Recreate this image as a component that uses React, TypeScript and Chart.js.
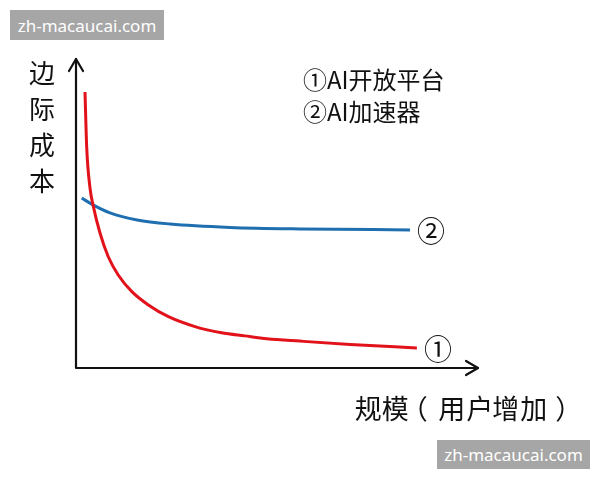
import React, { useEffect, useRef } from "react";
import { Chart, registerables } from "chart.js";

Chart.register(...registerables);

const redX = [2.24, 2.66, 3.48, 4.3, 5.97, 8.03, 10.5, 13.9, 18.0, 23.0, 29.6, 36.2, 42.0, 47.5, 55.7, 68.2, 84.8];
const redY = [89.3, 71.5, 58.3, 52.4, 43.7, 36.0, 30.1, 24.7, 20.4, 16.6, 13.4, 11.4, 10.4, 9.5, 8.7, 7.6, 6.5];
const blueX = [1.42, 4.23, 8.46, 15.2, 23.4, 38.3, 55.7, 83.1];
const blueY = [55.0, 52.8, 50.2, 47.9, 46.6, 45.5, 45.0, 44.7];
const seriesTags = ["①", "②"];
const legendLines = ["①AI开放平台", "②AI加速器"];
const yTitle = ["边", "际", "成", "本"];
const xTitle = "规模（用户增加）";
const watermark = "zh-macaucai.com";

const FONT = '"Noto Sans CJK SC", "Noto Sans", sans-serif';

const decorPlugin = {
  id: "decor",
  afterDraw(chart: any) {
    const ctx = chart.ctx as CanvasRenderingContext2D;
    const a = chart.chartArea;
    ctx.save();
    // axes
    ctx.strokeStyle = "#111";
    ctx.lineWidth = 2.2;
    ctx.lineCap = "round";
    ctx.lineJoin = "round";
    ctx.beginPath();
    ctx.moveTo(a.left, a.top);
    ctx.lineTo(a.left, a.bottom);
    ctx.lineTo(a.right, a.bottom);
    ctx.stroke();
    ctx.beginPath();
    ctx.moveTo(a.left - 7, a.top + 12);
    ctx.lineTo(a.left, a.top);
    ctx.lineTo(a.left + 7, a.top + 12);
    ctx.stroke();
    ctx.beginPath();
    ctx.moveTo(a.right - 12, a.bottom - 7);
    ctx.lineTo(a.right, a.bottom);
    ctx.lineTo(a.right - 12, a.bottom + 7);
    ctx.stroke();

    ctx.fillStyle = "#111";
    ctx.textBaseline = "middle";
    // series tags at line ends
    chart.data.datasets.forEach((ds: any, i: number) => {
      const meta = chart.getDatasetMeta(i);
      const last = meta.data[meta.data.length - 1];
      ctx.font = `28px ${FONT}`;
      ctx.textAlign = "left";
      ctx.fillText(seriesTags[i], last.x + 7, last.y + 1);
    });

    // legend text
    ctx.font = `24px ${FONT}`;
    ctx.textAlign = "left";
    legendLines.forEach((t, i) => ctx.fillText(t, 303, 80 + i * 32));

    // y title
    ctx.font = `26px ${FONT}`;
    ctx.textAlign = "center";
    yTitle.forEach((c, i) => ctx.fillText(c, 42, 73 + i * 36));

    // x title, drawn cell by cell so full-width brackets sit centred
    ctx.font = `27px ${FONT}`;
    ctx.textAlign = "left";
    const chars = Array.from(xTitle);
    const cell = 27.5;
    chars.forEach((c, i) => {
      const m = ctx.measureText(c);
      const inkW = m.actualBoundingBoxLeft + m.actualBoundingBoxRight;
      const cx = 354 + cell * i + cell / 2;
      ctx.fillText(c, cx - inkW / 2 + m.actualBoundingBoxLeft, 409);
    });
    ctx.restore();
  },
};

export default function App() {
  const ref = useRef<HTMLCanvasElement>(null);
  useEffect(() => {
    const chart = new Chart(ref.current!, {
      type: "line",
      data: {
        datasets: [
          {
            data: redX.map((x, i) => ({ x, y: redY[i] })),
            borderColor: "#e2121b",
            borderWidth: 3,
            pointRadius: 0,
            cubicInterpolationMode: "monotone",
          },
          {
            data: blueX.map((x, i) => ({ x, y: blueY[i] })),
            borderColor: "#1f6fb0",
            borderWidth: 3,
            pointRadius: 0,
            cubicInterpolationMode: "monotone",
          },
        ],
      },
      options: {
        animation: false,
        responsive: false,
        layout: { padding: { left: 76, right: 122, top: 59, bottom: 112 } },
        plugins: { legend: { display: false }, tooltip: { enabled: false } },
        scales: {
          x: { type: "linear", min: 0, max: 100, display: false },
          y: { type: "linear", min: 0, max: 100, display: false },
        },
      },
      plugins: [decorPlugin],
    } as any);
    return () => chart.destroy();
  }, []);

  const wm: React.CSSProperties = {
    position: "absolute",
    background: "#a6a6a6",
    color: "#fff",
    fontFamily: '"Noto Sans", "DejaVu Sans", sans-serif',
    fontSize: 17,
    display: "flex",
    alignItems: "center",
    justifyContent: "center",
  };

  return (
    <div style={{ position: "fixed", left: 0, top: 0, width: 600, height: 480, background: "#fff" }}>
      <canvas ref={ref} width={600} height={480} style={{ display: "block" }} />
      <div style={{ ...wm, left: 10, top: 10, width: 154, height: 30 }}>{watermark}</div>
      <div style={{ ...wm, left: 437, top: 440, width: 153, height: 29 }}>{watermark}</div>
    </div>
  );
}
